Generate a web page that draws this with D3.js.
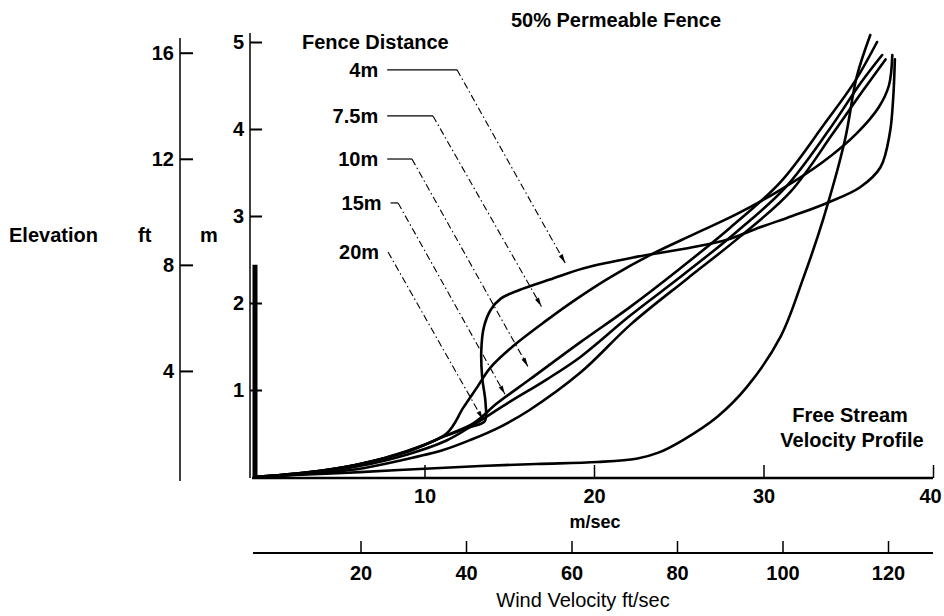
<!DOCTYPE html>
<html>
<head>
<meta charset="utf-8">
<script src="https://cdn.jsdelivr.net/npm/d3@7"></script>
<style>
  html,body{margin:0;padding:0;background:#fff;}
  svg{display:block;}
  text{font-family:"Liberation Sans",Arial,Helvetica,sans-serif;fill:#000;}
</style>
</head>
<body>
<svg id="chart" width="944" height="616"></svg>
<script>
// ---------------- data ----------------
const speedTicksMs = [10, 20, 30, 40];
const speedTicksFt = [20, 40, 60, 80, 100, 120];
const elevTicksM = [1, 2, 3, 4, 5];
const elevTicksFt = [4, 8, 12, 16];
const fenceHeightFt = 8;

const fenceLabels = ["4m", "7.5m", "10m", "15m", "20m"];
// leader lines in data units [speed m/s, elevation m]: label anchor, knee, arrow tip
const leaderStart = [[7.8, 4.68], [7.8, 4.15], [7.8, 3.655], [8.0, 3.15], [7.85, 2.586]];
const leaderKnee  = [[11.92, 4.68], [10.5, 4.15], [9.26, 3.655], [8.44, 3.15], [7.85, 2.586]];
const leaderTip   = [[18.3, 2.46], [16.9, 1.96], [16.1, 1.27], [14.75, 0.95], [13.45, 0.66]];

// velocity profiles [speed m/s, elevation m]
const freeStream = [[0,0],[2,0.02],[5.2,0.046],[8.5,0.08],[13.3,0.126],[16.6,0.15],[20.2,0.172],[22.5,0.21],[23.8,0.28],[25.25,0.425],[27.26,0.69],[29.0,1.03],[31.0,1.61],[32.3,2.26],[33.5,2.95],[34.8,3.87],[35.5,4.6],[36.3,5.08]];
const fence4m = [[0,0],[3,0.05],[6,0.14],[9,0.29],[11.2,0.47],[12.6,0.57],[13.55,0.64],[13.6,0.85],[13.4,1.15],[13.35,1.45],[13.5,1.72],[13.9,1.92],[14.5,2.05],[15.6,2.15],[17.4,2.27],[19.4,2.4],[22.5,2.53],[25.8,2.64],[27.9,2.73],[29.8,2.87],[31.7,3.0],[33.75,3.15],[35.7,3.33],[36.9,3.56],[37.45,3.95],[37.65,4.35],[37.75,4.8]];
const fence7_5m = [[0,0],[3,0.05],[6,0.14],[9,0.3],[11.3,0.5],[12.3,0.8],[13.1,1.03],[13.9,1.26],[15.2,1.5],[17.2,1.8],[19,2.05],[21,2.3],[23.5,2.57],[26,2.8],[28.5,3.03],[31,3.3],[33.5,3.62],[35.5,3.95],[36.8,4.25],[37.4,4.5],[37.6,4.85]];
const fence10m = [[0,0],[3,0.05],[6,0.14],[9,0.3],[11.3,0.48],[12.9,0.62],[14.3,0.85],[16.2,1.12],[19.2,1.55],[22.1,1.95],[25.1,2.4],[28,2.86],[31,3.39],[33.6,4.06],[35.4,4.55],[36.7,5.0]];
const fence15m = [[0,0],[3,0.04],[6,0.12],[9,0.26],[11.3,0.42],[12.9,0.6],[15,0.86],[17.2,1.12],[19.2,1.38],[22.1,1.85],[25.3,2.33],[28.3,2.8],[31.3,3.33],[33.9,4.0],[35.7,4.52],[37.0,4.85]];
const fence20m = [[0,0],[3,0.035],[6,0.09],[8.7,0.195],[11.1,0.31],[12.7,0.425],[14.5,0.58],[16.2,0.77],[19.2,1.2],[22.2,1.76],[25.5,2.28],[28.6,2.76],[31.6,3.28],[34.1,3.95],[35.9,4.45],[37.2,4.8]];

// ---------------- drawing ----------------
const svg = d3.select("#chart");
const FT = 0.3048;
const x = d3.scaleLinear().domain([0, 40]).range([255, 933]);
const y = d3.scaleLinear().domain([0, 5]).range([477, 42]);
const yFt = d3.scaleLinear().domain([0, 5 / FT]).range([477, 42]);
const xFt = d3.scaleLinear().domain([0, 120]).range([255, 888]);
const fmt = d3.format("d");

const bold = "bold";
const fs = 20;

// title
svg.append("text").attr("x", 616).attr("y", 27).attr("text-anchor", "middle")
  .attr("font-size", fs).attr("font-weight", bold).text("50% Permeable Fence");

// Elevation labels
svg.append("text").attr("x", 9).attr("y", 242).attr("font-size", fs).attr("font-weight", bold).text("Elevation");
svg.append("text").attr("x", 138).attr("y", 242).attr("font-size", fs).attr("font-weight", bold).text("ft");
svg.append("text").attr("x", 200).attr("y", 242).attr("font-size", fs).attr("font-weight", bold).text("m");

// ft axis
svg.append("line").attr("x1", 180).attr("x2", 180).attr("y1", 38).attr("y2", 481)
  .attr("stroke", "#000").attr("stroke-width", 1.5);
const gFt = svg.append("g").attr("transform", "translate(180,0)")
  .call(d3.axisLeft(yFt).tickValues(elevTicksFt).tickFormat(fmt).tickSizeInner(-13).tickSizeOuter(0).tickPadding(6));
gFt.select(".domain").remove();
gFt.selectAll(".tick line").attr("stroke-width", 2);
gFt.selectAll(".tick text").attr("font-size", fs).attr("font-weight", bold).attr("font-family", null);

// m axis
svg.append("line").attr("x1", 250).attr("x2", 250).attr("y1", 33).attr("y2", 478)
  .attr("stroke", "#000").attr("stroke-width", 1.5);
const gM = svg.append("g").attr("transform", "translate(250,0)")
  .call(d3.axisLeft(y).tickValues(elevTicksM).tickFormat(fmt).tickSizeInner(-12).tickSizeOuter(0).tickPadding(6));
gM.select(".domain").remove();
gM.selectAll(".tick line").attr("stroke-width", 2);
gM.selectAll(".tick text").attr("font-size", fs).attr("font-weight", bold).attr("font-family", null);

// fence bar
svg.append("line").attr("x1", x(0)).attr("x2", x(0)).attr("y1", y(0)).attr("y2", yFt(fenceHeightFt))
  .attr("stroke", "#000").attr("stroke-width", 5);

// m/sec axis
svg.append("line").attr("x1", 252).attr("x2", 933).attr("y1", 478).attr("y2", 478)
  .attr("stroke", "#000").attr("stroke-width", 2.5);
const gX = svg.append("g").attr("transform", "translate(0,478)")
  .call(d3.axisBottom(x).tickValues(speedTicksMs).tickFormat(fmt).tickSizeInner(-13).tickSizeOuter(0).tickPadding(11));
gX.select(".domain").remove();
gX.selectAll(".tick line").attr("stroke-width", 1.5);
gX.selectAll(".tick text").attr("font-size", fs).attr("font-weight", bold).attr("font-family", null);
gX.selectAll(".tick").filter(d => d === 40).select("text").attr("dx", -3);
svg.append("text").attr("x", 595).attr("y", 528).attr("text-anchor", "middle")
  .attr("font-size", 18).attr("font-weight", bold).text("m/sec");

// ft/sec axis
svg.append("line").attr("x1", 253).attr("x2", 933).attr("y1", 553).attr("y2", 553)
  .attr("stroke", "#000").attr("stroke-width", 2);
const gXF = svg.append("g").attr("transform", "translate(0,553)")
  .call(d3.axisBottom(xFt).tickValues(speedTicksFt).tickFormat(fmt).tickSizeInner(-12).tickSizeOuter(0).tickPadding(13));
gXF.select(".domain").remove();
gXF.selectAll(".tick line").attr("stroke-width", 1.5);
gXF.selectAll(".tick text").attr("font-size", fs).attr("font-weight", bold).attr("font-family", null);
svg.append("text").attr("x", 583).attr("y", 607).attr("text-anchor", "middle")
  .attr("font-size", fs).text("Wind Velocity ft/sec");

// curves
const line = d3.line().x(d => x(d[0])).y(d => y(d[1])).curve(d3.curveCatmullRom.alpha(0.5));
const profiles = [freeStream, fence4m, fence7_5m, fence10m, fence15m, fence20m];
svg.append("g").selectAll("path").data(profiles).join("path")
  .attr("d", line).attr("fill", "none").attr("stroke", "#000")
  .attr("stroke-width", 2.6).attr("stroke-linejoin", "round").attr("stroke-linecap", "round");

// legend heading
svg.append("text").attr("x", 302).attr("y", 49).attr("font-size", fs).attr("font-weight", bold).text("Fence Distance");

// leaders
const gL = svg.append("g");
fenceLabels.forEach((lab, i) => {
  const s = leaderStart[i], k = leaderKnee[i], t = leaderTip[i];
  gL.append("text").attr("x", x(s[0]) - 9).attr("y", y(s[1]) + 7).attr("text-anchor", "end")
    .attr("font-size", fs).attr("font-weight", bold).text(lab);
  gL.append("line").attr("x1", x(s[0])).attr("y1", y(s[1])).attr("x2", x(k[0])).attr("y2", y(k[1]))
    .attr("stroke", "#000").attr("stroke-width", 1.2);
  gL.append("line").attr("x1", x(k[0])).attr("y1", y(k[1])).attr("x2", x(t[0])).attr("y2", y(t[1]))
    .attr("stroke", "#000").attr("stroke-width", 1.1).attr("stroke-dasharray", "7,3,1.5,3");
  const ang = Math.atan2(y(t[1]) - y(k[1]), x(t[0]) - x(k[0])) * 180 / Math.PI;
  gL.append("path").attr("d", "M0,0 L-9,-2.2 L-9,2.2 Z")
    .attr("transform", `translate(${x(t[0])},${y(t[1])}) rotate(${ang})`).attr("fill", "#000");
});

// free stream label
svg.append("text").attr("x", 850).attr("y", 422).attr("text-anchor", "middle")
  .attr("font-size", fs).attr("font-weight", bold).text("Free Stream");
svg.append("text").attr("x", 852).attr("y", 447).attr("text-anchor", "middle")
  .attr("font-size", fs).attr("font-weight", bold).text("Velocity Profile");
</script>
</body>
</html>
